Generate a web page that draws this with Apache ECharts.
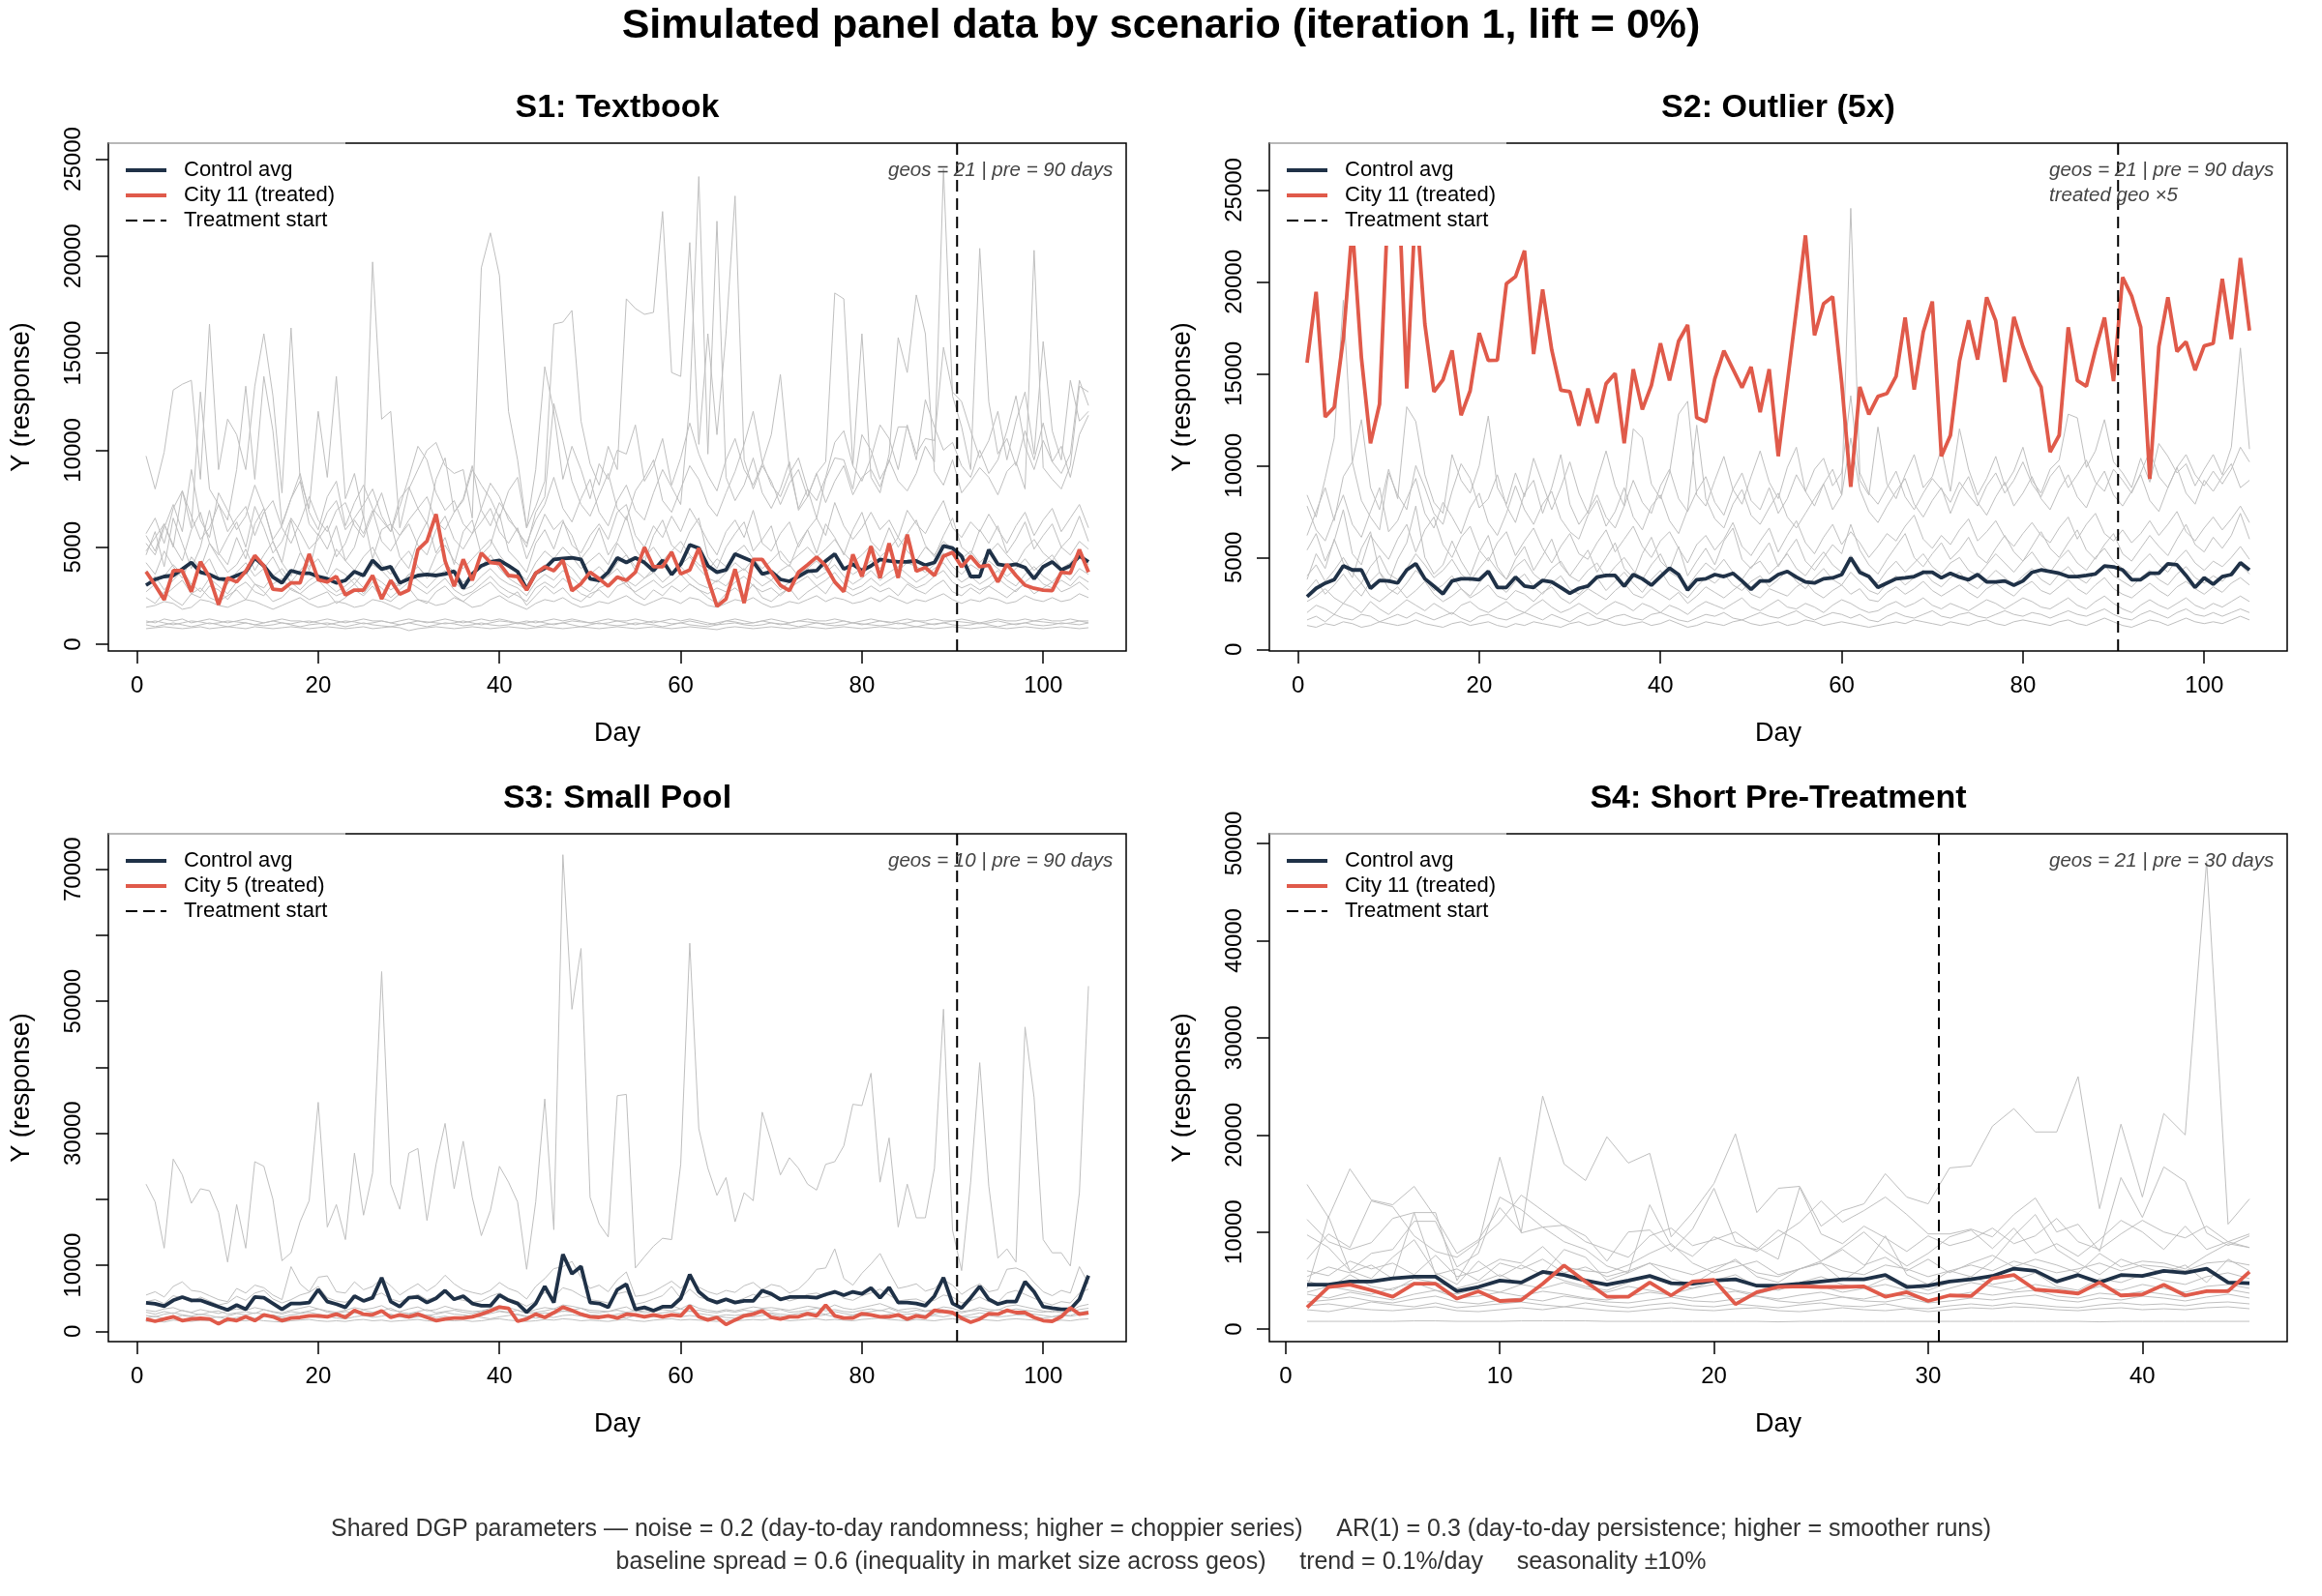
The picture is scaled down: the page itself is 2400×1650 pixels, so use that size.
<!DOCTYPE html>
<html>
<head>
<meta charset="utf-8">
<script src="https://cdn.jsdelivr.net/npm/echarts@6/dist/echarts.min.js"></script>
<style>
  html, body { margin: 0; padding: 0; background: #fff; }
  #chart { width: 2400px; height: 1650px; }
</style>
</head>
<body>
<div id="chart"></div>
<script>
// ---- data ----
const DAYS_105 = Array.from({ length: 105 }, (_, i) => i + 1);
const DAYS_45 = Array.from({ length: 45 }, (_, i) => i + 1);
const X_TICKS_105 = [0, 20, 40, 60, 80, 100];
const X_TICKS_45 = [0, 10, 20, 30, 40];
const Y_TICKS_25K = [0, 5000, 10000, 15000, 20000, 25000];
const S3_yticks = [0, 10000, 20000, 30000, 40000, 50000, 60000, 70000];
const S3_ylabels = [0, 10000, 30000, 50000, 70000];
const S4_yticks = [0, 10000, 20000, 30000, 40000, 50000];

// S1: Textbook
const S1_avg = [3040,3340,3490,3540,3870,4210,3710,3590,3370,3340,
  3540,3710,4450,4040,3460,3160,3790,3660,3660,3490,
  3370,3160,3290,3740,3540,4320,3870,3990,3160,3370,
  3540,3590,3540,3620,3760,2880,3620,4040,4240,4320,
  4040,3740,2830,3660,3910,4370,4420,4450,4370,3370,
  3290,3710,4450,4210,4450,4210,3790,4320,3590,4120,
  5120,4950,4040,3710,3830,4650,4450,4250,3620,3740,
  3340,3240,3490,3760,3790,4290,4650,3870,4120,3790,
  4040,4370,4290,4240,4250,4290,4070,4210,5070,4950,
  4540,3490,3490,4870,4120,4040,4120,3950,3370,3990,
  4240,3830,4040,4540,4250];
const S1_treated = [3740,3040,2290,3790,3790,2710,4250,3460,2040,3420,
  3210,3760,4570,4040,2830,2790,3160,3160,4650,3320,
  3210,3490,2540,2790,2790,3540,2330,3290,2580,2790,
  4870,5320,6700,4290,2990,4370,3290,4700,4210,4160,
  3540,3490,2790,3660,3990,3790,4320,2760,3120,3710,
  3370,2990,3460,3290,3710,4990,3990,3990,4750,3620,
  3830,4950,3370,1960,2330,3870,2120,4370,4370,3710,
  3040,2760,3710,4090,4490,4040,3210,2710,4620,3490,
  5040,3420,5200,3420,5650,3760,3950,3540,4540,4730,
  3990,4540,3990,4070,3210,4120,3540,3040,2880,2790,
  2760,3710,3660,4870,3710];
// control geos, thousands
const S1_geos = [
 [9.7,8.0,9.9,13.1,13.4,13.6,8.5,16.5,9.0,11.6, 10.8,9.0,13.3,16.0,12.8,7.8,16.3,8.5,7.0,12.0, 8.6,13.8,7.5,8.8,6.5,19.7,11.6,12.0,6.0,8.0,
  9.0,10.0,10.4,9.2,8.8,9.0,6.5,19.4,21.2,19.0, 12.0,9.5,6.0,9.0,14.3,12.0,8.5,10.2,9.0,7.5, 9.3,8.5,10.0,9.8,11.3,8.4,9.2,10.6,8.2,9.6,
  11.4,9.8,8.7,7.9,9.5,10.6,9.0,8.2,9.3,10.8, 13.9,9.0,7.0,8.0,6.5,8.5,9.6,9.5,8.0,10.8, 10.0,8.5,9.4,11.2,11.2,9.8,10.6,10.5,15.3,13.0,
  12.5,11.0,9.6,10.5,12.0,9.5,11.5,13.0,9.8,15.6, 11.0,9.5,13.6,11.5,12.0],
 [5.7,6.5,5.2,7.0,7.9,6.0,13.0,8.0,7.2,6.4, 9.0,13.3,8.5,13.8,11.0,6.2,7.5,8.8,6.8,5.9, 7.6,8.4,6.1,7.3,8.2,7.0,6.4,5.8,7.5,8.1,
  7.0,6.2,8.5,9.6,6.8,7.4,9.0,8.2,7.5,6.5, 7.9,8.6,6.0,7.1,8.4,16.5,16.6,17.2,11.5,9.3, 8.2,10.2,9.0,17.8,17.3,17.0,17.1,22.3,14.0,13.8,
  20.7,10.3,16.0,10.8,16.0,23.1,9.5,8.0,9.2,8.4, 7.2,8.3,9.0,7.6,8.8,9.4,18.1,17.8,9.2,16.0, 8.6,7.8,9.8,15.8,14.0,18.0,16.0,8.9,8.2,9.5,
  7.8,8.4,9.1,8.6,7.7,8.9,9.4,8.0,20.3,9.1, 8.5,8.0,9.2,13.3,13.0],
 [4.8,5.5,6.2,5.0,7.9,6.6,5.4,6.0,7.2,5.8, 6.5,7.1,5.6,6.8,7.4,6.0,5.2,6.3,7.6,6.4, 5.8,6.9,7.3,6.1,5.5,6.7,7.8,6.2,5.6,6.4,
  7.0,7.6,6.3,5.9,6.8,7.5,9.2,6.9,6.1,7.3, 6.6,5.8,5.2,6.4,7.2,8.6,7.0,6.3,7.5,8.5, 6.8,6.1,7.4,8.2,6.9,6.4,7.8,9.0,8.1,7.2,
  12.5,24.1,9.8,21.8,8.6,7.4,8.2,9.6,7.8,7.0, 8.0,9.4,6.9,7.6,8.8,7.3,8.4,9.2,7.7,8.6, 9.0,8.1,9.5,8.4,7.9,8.8,10.2,9.4,24.5,12.8,
  11.2,9.0,20.4,12.5,9.8,10.6,9.2,11.0,9.5,11.4, 9.4,10.2,8.6,10.8,11.8],
 [5.2,4.6,6.0,7.2,5.8,9.0,6.4,5.5,7.8,6.9, 5.9,6.6,8.2,7.0,5.4,6.1,7.5,8.4,6.2,5.6, 6.8,7.4,5.9,6.5,7.2,8.0,6.6,5.8,7.1,8.6,
  10.2,9.5,7.8,6.9,7.4,6.2,5.7,7.0,8.3,7.6, 6.4,5.9,5.0,6.8,7.6,12.4,10.5,8.4,7.2,6.6, 7.7,8.8,7.0,6.4,7.9,8.6,9.5,7.4,6.8,8.0,
  9.2,8.5,7.2,6.6,7.8,8.9,10.3,12.0,9.4,8.2, 7.6,8.8,9.6,8.0,7.4,8.6,10.4,11.0,9.2,8.4, 9.6,11.3,10.6,9.0,11.3,9.5,12.6,11.2,10.0,10.4,
  9.2,8.6,10.0,8.8,9.5,11.0,12.8,10.2,9.0,10.5, 9.4,8.8,9.8,13.6,12.3],
 [5.6,4.8,6.2,5.1,4.3,5.9,6.8,5.2,4.6,5.5, 6.3,5.0,7.1,6.0,4.7,5.3,6.5,5.8,4.9,5.4, 6.1,4.5,5.2,6.4,5.7,6.9,5.3,4.8,5.6,6.2,
  5.1,4.6,5.9,6.6,5.4,4.9,5.7,6.3,7.0,5.8, 5.2,6.0,4.4,5.5,6.7,5.9,6.4,5.1,4.7,5.6, 6.2,5.4,6.8,7.2,5.6,5.0,6.1,5.5,6.6,5.8,
  7.0,6.2,5.3,4.6,5.8,6.4,5.5,6.9,5.2,4.8, 5.7,6.3,5.0,5.9,6.5,5.6,7.3,6.1,5.4,6.0, 6.8,5.9,6.4,5.5,6.9,6.2,5.7,6.6,7.4,6.0,
  5.5,6.3,5.8,6.7,5.9,5.2,6.1,6.8,5.6,6.4, 7.0,5.8,6.5,7.2,6.0],
 [4.2,3.6,4.8,4.0,3.4,4.5,3.9,5.2,4.4,3.7, 4.1,4.9,3.8,4.6,5.3,4.2,3.5,4.7,4.0,4.4, 3.6,4.9,4.3,3.8,4.5,5.0,4.1,3.6,4.3,4.8,
  4.0,3.5,4.6,5.1,4.3,3.9,4.4,4.9,5.4,4.6, 4.0,3.7,3.3,4.2,4.8,4.4,5.0,4.5,3.9,4.3, 4.7,4.1,5.2,4.6,4.0,4.5,5.0,4.3,4.8,5.3,
  4.6,4.1,3.8,4.4,4.0,4.7,5.1,4.4,3.9,4.3, 4.8,4.2,4.6,5.0,4.5,4.9,5.4,4.7,4.2,4.6, 5.1,4.5,4.9,5.5,4.8,4.3,5.0,4.6,5.3,4.9,
  4.4,4.8,4.2,4.7,5.2,4.6,4.1,4.9,5.4,4.7, 4.3,5.0,4.6,5.3,4.9],
 [3.0,3.5,2.8,3.3,3.8,3.1,2.7,3.4,3.0,2.6, 3.2,3.7,3.1,2.9,3.5,3.9,3.2,2.8,3.3,3.6, 3.1,2.7,3.0,3.4,2.9,3.5,3.2,2.8,3.1,3.6,
  3.3,2.9,3.4,3.8,3.2,2.8,3.0,3.5,3.9,3.4, 3.1,2.9,2.5,3.2,3.6,3.3,3.8,3.4,3.0,2.7, 3.2,3.5,3.9,3.3,3.0,3.4,3.7,3.2,3.6,4.0,
  3.5,3.1,2.9,3.3,3.0,3.6,3.9,3.4,3.0,3.3, 2.8,3.2,3.6,3.9,3.4,3.7,4.1,3.5,3.1,3.4, 3.8,3.3,3.7,4.0,3.6,3.2,3.5,3.9,4.2,3.6,
  3.2,3.5,3.1,3.4,3.8,3.3,3.0,3.6,4.0,3.5, 3.2,3.7,3.3,3.9,3.6],
 [2.4,2.1,2.7,2.3,2.0,2.6,2.9,2.4,2.2,2.5, 2.8,2.3,3.1,2.7,2.2,2.4,2.9,2.6,2.3,2.5, 2.7,2.1,2.4,2.8,2.5,3.0,2.4,2.2,2.6,2.9,
  2.3,2.1,2.7,3.0,2.5,2.2,2.6,2.9,3.2,2.7, 2.4,2.7,2.0,2.5,3.0,2.6,2.9,2.4,2.2,2.6, 2.8,2.4,3.0,3.2,2.6,2.3,2.8,2.5,3.0,2.7,
  3.1,2.8,2.4,2.1,2.6,2.9,2.5,3.1,2.4,2.2, 2.6,2.9,2.3,2.7,3.0,2.6,3.3,2.8,2.5,2.7, 3.0,2.7,2.9,2.5,3.1,2.8,2.6,3.0,3.3,2.7,
  2.5,2.9,2.6,3.0,2.7,2.4,2.8,3.1,2.6,2.9, 3.2,2.7,2.9,3.2,2.8],
 [1.9,2.0,2.2,2.1,1.8,1.9,2.3,2.2,2.0,1.9, 2.1,2.3,2.2,2.0,1.8,2.0,2.2,2.4,2.1,1.9, 2.0,2.2,2.1,1.9,2.0,2.3,2.2,2.0,1.8,2.1,
  2.3,2.2,2.0,2.1,2.4,2.2,1.9,2.0,2.3,2.5, 2.2,2.0,1.8,2.1,2.3,2.2,2.4,2.1,1.9,2.0, 2.2,2.1,2.3,2.5,2.2,2.0,2.2,2.4,2.3,2.1,
  2.4,2.3,2.0,1.9,2.1,2.3,2.2,2.4,2.1,1.9, 2.0,2.2,2.1,2.3,2.5,2.2,2.4,2.3,2.1,2.2, 2.4,2.2,2.5,2.3,2.1,2.3,2.2,2.4,2.6,2.3,
  2.1,2.3,2.2,2.4,2.3,2.1,2.2,2.5,2.3,2.2, 2.4,2.2,2.3,2.6,2.4],
 [4.6,5.8,4.0,6.5,5.2,3.9,5.0,6.9,4.7,4.1, 5.5,4.4,6.2,7.0,5.3,4.2,6.4,4.8,3.8,5.7, 4.9,6.1,4.3,5.0,6.6,4.4,5.9,6.2,4.5,3.9,
  5.4,6.3,4.7,5.5,4.1,5.8,6.4,4.6,5.1,6.7, 4.8,4.3,3.7,5.2,5.9,4.9,6.3,5.6,4.4,5.0, 6.0,4.6,5.3,6.6,4.9,4.2,5.6,6.4,5.1,4.7,
  5.8,6.5,4.5,3.9,5.0,5.7,6.3,4.8,5.4,6.1, 4.4,4.0,5.2,5.9,4.7,6.2,5.5,4.6,5.9,6.8, 5.3,4.8,6.0,5.0,5.7,6.4,5.1,4.5,5.6,6.5,
  5.0,4.6,5.9,5.2,6.1,4.7,5.4,6.3,4.9,5.6, 6.2,5.0,5.5,6.6,5.3],
 [3.8,3.2,3.5,4.1,3.6,3.0,3.9,4.4,3.4,3.1, 3.7,4.2,3.5,3.9,4.5,3.6,3.2,3.8,4.3,3.5, 3.3,3.9,3.6,3.1,3.7,4.1,3.8,3.3,3.0,3.6,
  4.0,3.4,3.8,4.2,3.7,3.2,3.5,4.0,4.6,3.9, 3.4,3.1,2.8,3.6,4.1,3.7,4.3,3.9,3.3,3.6, 4.0,3.5,4.2,4.6,3.8,3.4,3.9,4.4,3.7,4.1,
  4.5,3.9,3.4,3.2,3.7,4.2,3.8,4.4,3.6,3.3, 3.8,4.1,3.5,3.9,4.3,3.8,4.6,4.0,3.6,3.9, 4.3,3.9,4.4,3.8,4.2,4.0,3.7,4.1,4.7,4.0,
  3.6,4.1,3.8,4.3,3.9,3.5,3.9,4.4,3.8,4.2, 4.6,3.9,4.2,4.8,4.1],
 [2.7,3.1,2.5,2.9,3.3,2.6,2.4,3.0,2.8,2.3, 2.9,3.2,2.7,2.5,3.1,3.4,2.8,2.6,3.0,3.3, 2.8,2.5,2.7,3.1,2.6,3.2,2.9,2.4,2.8,3.2,
  2.9,2.6,3.0,3.4,2.8,2.5,2.7,3.1,3.5,3.0, 2.7,2.5,2.2,2.9,3.2,2.9,3.4,3.0,2.6,2.4, 2.9,3.1,3.5,3.0,2.7,3.0,3.3,2.9,3.2,3.6,
  3.1,2.8,2.6,2.9,2.7,3.2,3.5,3.0,2.7,2.9, 2.5,2.9,3.2,3.5,3.0,3.3,3.7,3.1,2.8,3.0, 3.4,3.0,3.3,3.6,3.2,2.9,3.1,3.5,3.8,3.2,
  2.9,3.1,2.8,3.0,3.4,3.0,2.7,3.2,3.6,3.1, 2.9,3.3,3.0,3.5,3.2],
 [1.2,1.1,1.3,1.2,1.3,1.1,1.2,1.3,1.2,1.1, 1.2,1.3,1.2,1.1,1.2,1.3,1.2,1.2,1.1,1.2, 1.3,1.2,1.1,1.2,1.3,1.2,1.2,1.1,1.2,1.3,
  1.2,1.1,1.2,1.3,1.2,1.1,1.2,1.3,1.2,1.3, 1.2,1.1,1.2,1.1,1.2,1.3,1.2,1.3,1.2,1.1, 1.2,1.3,1.2,1.2,1.3,1.2,1.1,1.2,1.3,1.2,
  1.3,1.2,1.1,1.0,1.2,1.3,1.2,1.1,1.2,1.3, 1.2,1.1,1.2,1.3,1.2,1.2,1.3,1.2,1.1,1.2, 1.3,1.2,1.1,1.2,1.3,1.2,1.2,1.3,1.2,1.2,
  1.3,1.2,1.1,1.2,1.3,1.2,1.2,1.3,1.2,1.3, 1.2,1.2,1.3,1.2,1.2],
 [1.0,0.9,1.0,1.1,1.0,0.9,1.0,1.1,1.0,0.9, 1.0,1.1,1.0,0.95,1.0,1.1,1.0,0.9,1.0,1.05, 1.1,1.0,0.9,1.0,1.1,1.0,0.95,0.9,1.0,1.1,
  1.0,0.9,1.0,1.1,1.05,0.95,1.0,1.1,1.0,0.95, 1.0,1.1,1.0,0.9,1.0,1.05,1.1,1.0,0.9,1.0, 1.1,1.0,0.95,1.0,1.1,1.05,1.0,0.9,1.0,1.1,
  1.0,0.95,0.9,1.0,1.05,1.1,1.0,0.95,1.0,1.1, 1.05,1.0,0.9,1.0,1.1,1.0,0.95,1.0,1.1,1.05, 1.0,0.95,1.0,1.1,1.0,0.9,1.0,1.05,1.1,1.0,
  0.95,1.0,1.1,1.0,0.9,1.0,1.05,1.1,1.0,0.95, 1.0,1.1,1.05,1.0,1.1],
 [0.8,0.85,0.9,0.85,0.8,0.85,0.9,0.8,0.85,0.9, 0.85,0.8,0.9,0.85,0.8,0.85,0.9,0.85,0.8,0.85, 0.9,0.85,0.8,0.85,0.9,0.8,0.85,0.9,0.85,0.7,
  0.8,0.85,0.9,0.85,0.8,0.85,0.9,0.85,0.8,0.85, 0.9,0.85,0.8,0.85,0.9,0.85,0.8,0.85,0.9,0.85, 0.8,0.85,0.9,0.85,0.8,0.85,0.9,0.85,0.8,0.85,
  0.9,0.85,0.8,0.75,0.85,0.9,0.85,0.8,0.85,0.9, 0.85,0.8,0.85,0.9,0.85,0.8,0.85,0.9,0.85,0.8, 0.85,0.9,0.85,0.8,0.85,0.9,0.85,0.8,0.85,0.9,
  0.85,0.8,0.85,0.9,0.85,0.8,0.85,0.9,0.85,0.8, 0.85,0.9,0.85,0.8,0.85],
 [1.1,1.2,1.1,1.0,1.1,1.2,1.15,1.05,1.1,1.2, 1.15,1.1,1.0,1.1,1.2,1.1,1.05,1.15,1.2,1.1, 1.0,1.1,1.2,1.15,1.05,1.1,1.2,1.1,1.0,1.1,
  1.2,1.15,1.1,1.05,1.1,1.2,1.1,1.0,1.1,1.2, 1.15,1.05,1.1,1.2,1.1,1.0,1.1,1.2,1.15,1.1, 1.05,1.1,1.2,1.1,1.0,1.1,1.2,1.15,1.05,1.1,
  1.2,1.1,1.0,1.1,1.2,1.15,1.05,1.1,1.2,1.1, 1.0,1.1,1.2,1.15,1.1,1.05,1.1,1.2,1.1,1.0, 1.1,1.2,1.15,1.05,1.1,1.2,1.1,1.0,1.1,1.2,
  1.15,1.1,1.05,1.1,1.2,1.1,1.0,1.1,1.2,1.15, 1.1,1.05,1.1,1.2,1.1]
];

// S2: Outlier (5x)
const S2_avg = [2870,3320,3600,3790,4540,4320,4320,3320,3750,3720,
  3610,4320,4660,3840,3440,3020,3720,3840,3840,3790,
  4240,3370,3370,3930,3440,3370,3750,3670,3370,3050,
  3320,3440,3930,4020,4020,3440,4070,3840,3490,3960,
  4420,4070,3230,3790,3840,4070,3960,4140,3720,3260,
  3720,3720,4070,4240,3930,3670,3610,3840,3890,4070,
  4980,4190,3960,3370,3610,3840,3890,3960,4190,4190,
  3890,4140,3930,3790,4070,3670,3670,3720,3490,3720,
  4190,4320,4240,4140,3960,3960,4020,4100,4540,4490,
  4320,3790,3790,4140,4140,4660,4600,4020,3370,3890,
  3540,3960,4070,4710,4320];
const S2_treated = [15600,19460,12650,13180,16910,23000,15860,11210,13350,25000,
  26500,14190,24500,17700,14020,14670,16270,12740,14070,17210,
  15720,15740,19900,20280,21700,16070,19580,16300,14110,14020,
  12180,14190,12320,14460,15020,11210,15250,13050,14370,16650,
  14630,16770,17650,12610,12390,14720,16250,15250,14250,15370,
  12910,15250,10510,14500,18500,22530,17090,18810,19190,14500,
  8840,14280,12790,13760,13930,14850,18060,14140,17270,18930,
  10510,11650,15690,17910,15770,19160,17880,14550,18090,16480,
  15190,14280,10740,11650,17530,14630,14320,16300,18060,14600,
  20250,19230,17530,9280,16480,19160,16210,16740,15190,16510,
  16650,20160,16880,21300,17350];
const S2_geos = [
 [8.4,7.2,9.3,11.5,19.0,10.2,12.5,8.8,7.6,9.8, 8.2,13.2,12.4,9.5,8.0,7.4,10.6,9.2,8.5,10.0, 12.7,8.8,7.9,9.6,8.3,10.4,9.0,7.6,8.8,10.2,
  8.5,7.4,9.2,10.8,8.9,7.8,12.0,11.5,9.0,8.2, 9.6,12.8,13.5,8.4,7.8,9.2,10.5,8.7,7.9,9.4, 10.8,9.1,8.2,9.9,11.0,8.6,9.8,10.4,8.9,9.6,
  13.8,9.2,8.4,12.1,9.0,8.2,9.5,10.6,8.8,9.4, 10.9,8.6,12.0,9.8,8.4,9.3,10.5,8.9,9.7,11.0, 9.2,8.5,9.8,10.3,12.8,12.6,9.9,10.8,12.5,10.2,
  9.6,8.8,10.4,9.1,11.2,10.5,9.6,10.1,8.9,9.8, 10.6,9.5,11.0,16.4,10.9],
 [6.2,7.5,8.8,7.0,9.4,10.2,8.1,7.2,6.5,9.6, 8.4,7.6,10.0,8.8,7.4,6.8,8.6,10.1,9.3,7.7, 8.2,9.5,7.8,6.9,8.5,9.2,7.4,8.8,10.6,7.9,
  6.8,7.5,8.4,7.2,6.6,7.8,9.2,8.0,7.4,8.9, 9.8,8.2,7.5,8.6,9.4,8.0,7.3,8.7,9.6,8.1, 7.6,8.8,7.4,8.2,9.5,8.6,7.8,9.0,9.8,8.4,
  24.0,9.6,8.5,7.9,8.8,9.7,8.3,7.6,8.5,9.3, 8.7,8.0,9.1,8.4,7.8,8.9,9.6,8.5,9.2,10.2, 9.0,8.3,9.4,10.0,8.8,9.5,10.3,9.1,8.6,9.8,
  9.2,8.5,9.6,10.8,9.4,8.8,9.9,10.6,9.5,8.9, 9.7,9.0,9.8,11.0,10.2],
 [7.8,6.5,5.9,7.2,8.4,6.8,6.1,7.5,8.8,6.4, 7.0,8.2,9.3,7.4,6.6,8.0,7.2,6.3,7.7,8.5, 6.9,6.2,7.4,8.9,7.6,6.8,7.9,8.6,7.1,6.4,
  6.0,7.3,8.1,6.7,7.5,8.8,7.2,6.5,7.8,8.4, 7.0,6.3,7.6,12.2,8.2,7.1,6.6,7.9,8.7,7.3, 6.8,7.7,8.5,7.2,6.6,7.4,8.2,9.0,7.6,8.4,
  11.5,8.7,7.5,6.9,7.8,8.6,9.3,7.9,7.2,8.1, 8.8,7.4,8.6,9.4,8.0,7.3,8.3,9.1,7.8,8.5, 9.4,8.2,7.6,8.7,9.5,8.3,7.7,8.9,9.7,8.4,
  7.8,8.6,9.5,8.1,7.5,8.8,9.9,8.5,7.9,9.2, 8.6,9.4,10.1,8.8,9.2],
 [5.4,6.3,4.8,5.9,7.6,5.2,4.6,6.2,5.5,4.9, 6.0,6.8,5.3,6.5,7.2,5.7,5.0,6.1,6.7,5.4, 4.8,5.8,6.4,5.1,5.9,6.6,5.5,4.7,5.6,6.3,
  5.2,4.9,5.8,6.5,5.3,6.0,6.7,5.6,5.0,5.9, 6.4,5.5,4.7,5.7,6.2,5.4,6.0,6.9,5.6,5.1, 5.9,6.6,5.3,6.2,7.0,5.8,5.2,6.1,6.8,5.7,
  6.4,5.8,5.0,5.6,6.3,5.9,6.7,7.3,6.0,5.5, 6.2,5.7,6.5,7.1,5.9,6.4,7.0,6.1,5.6,6.3, 6.9,6.2,5.8,6.6,7.2,6.0,6.8,7.4,6.3,5.9,
  6.5,5.8,6.3,7.0,6.2,6.8,7.5,6.4,5.9,6.6, 7.2,6.5,7.1,7.8,6.9],
 [3.8,5.2,4.4,6.0,4.7,3.9,5.5,6.4,4.2,3.6, 4.9,5.8,7.8,5.0,4.1,4.6,5.9,4.8,4.0,5.3, 6.2,4.5,3.8,4.9,5.6,4.3,5.1,6.0,4.6,4.0,
  4.7,5.4,4.2,5.0,5.8,4.4,3.9,5.2,6.1,4.8, 4.3,5.6,4.0,4.8,5.5,4.6,5.9,6.6,4.9,4.4, 5.1,5.8,4.5,5.3,6.0,4.8,4.3,5.0,5.7,5.2,
  6.8,5.4,4.6,4.1,4.9,5.6,6.3,5.0,4.5,5.2, 5.8,4.9,5.4,6.1,5.1,4.7,5.5,6.2,5.3,4.8, 5.6,6.4,5.5,5.0,5.8,6.5,5.4,4.9,5.7,6.3,
  5.2,4.8,5.5,6.2,5.6,5.1,6.0,6.8,5.7,5.3, 6.1,5.5,6.2,7.4,6.0],
 [4.0,4.6,3.7,4.3,5.0,4.2,3.6,4.5,5.1,4.1, 3.8,4.4,5.2,4.6,3.9,4.3,4.9,4.1,3.7,4.4, 5.0,4.3,3.8,4.5,4.9,4.1,3.7,4.4,4.8,4.0,
  3.7,4.3,4.7,3.9,4.5,5.0,4.3,3.8,4.6,5.2, 4.2,3.9,3.4,4.1,4.7,4.3,4.9,4.2,3.8,4.5, 4.8,4.1,4.6,5.2,4.4,4.0,4.7,5.3,4.6,4.2,
  5.1,4.4,3.9,3.6,4.3,4.8,4.2,4.7,5.2,4.5, 4.1,4.7,5.0,4.3,4.0,4.6,5.2,4.7,4.2,4.8, 5.3,4.6,4.2,4.9,5.4,4.7,4.3,5.0,5.5,4.8,
  4.4,4.1,4.7,5.2,4.6,4.2,4.9,5.4,4.7,4.3, 4.8,4.5,5.0,5.6,4.9],
 [3.2,3.8,3.0,3.5,4.1,3.4,2.9,3.7,4.2,3.3, 3.0,3.6,4.3,3.8,3.2,3.5,4.0,3.3,2.9,3.6, 4.2,3.5,3.1,3.7,4.1,3.4,3.0,3.6,4.0,3.3,
  3.0,3.5,3.9,3.2,3.7,4.2,3.6,3.1,3.8,4.3, 3.5,3.2,2.8,3.4,3.9,3.6,4.1,3.5,3.2,3.7, 4.0,3.4,3.8,4.3,3.7,3.3,3.9,4.4,3.8,3.5,
  4.2,3.7,3.2,3.0,3.6,4.0,3.5,3.9,4.3,3.7, 3.4,3.9,4.2,3.6,3.3,3.8,4.3,3.9,3.5,4.0, 4.4,3.8,3.5,4.1,4.5,3.9,3.6,4.2,4.6,4.0,
  3.7,3.4,3.9,4.3,3.8,3.5,4.1,4.5,3.9,3.6, 4.0,3.7,4.2,4.6,4.1],
 [2.6,2.9,3.3,2.8,2.5,3.1,3.6,2.9,2.6,3.0, 3.4,2.8,3.2,3.7,3.0,2.6,2.9,3.3,2.8,3.1, 3.5,2.9,2.7,3.2,3.0,2.6,3.1,3.4,2.8,2.5,
  2.9,3.3,3.0,2.7,3.2,3.6,3.0,2.8,3.3,3.0, 2.7,3.1,2.5,2.9,3.4,3.1,2.8,3.2,3.6,3.0, 2.8,3.3,3.1,2.9,3.4,3.7,3.1,2.8,3.2,3.5,
  3.0,3.3,2.7,2.6,3.1,3.4,3.0,3.3,3.7,3.2, 2.9,3.2,3.5,3.1,2.8,3.3,3.6,3.2,2.9,3.4, 3.7,3.2,3.0,3.4,3.8,3.3,3.0,3.5,3.9,3.3,
  3.0,2.8,3.2,3.6,3.2,2.9,3.4,3.7,3.3,3.0, 3.4,3.1,3.6,3.9,3.5],
 [2.0,2.4,2.2,1.9,2.5,2.3,2.0,2.6,2.2,1.9, 2.3,2.7,2.4,2.1,2.5,2.2,1.9,2.4,2.6,2.2, 2.0,2.3,2.6,2.2,2.0,2.4,2.7,2.3,2.0,2.2,
  2.5,2.2,1.9,2.3,2.6,2.4,2.1,2.5,2.3,2.0, 2.4,2.2,1.9,2.3,2.6,2.4,2.2,2.5,2.8,2.3, 2.1,2.4,2.7,2.3,2.2,2.5,2.3,2.0,2.4,2.7,
  2.5,2.2,2.0,2.1,2.4,2.6,2.3,2.5,2.8,2.4, 2.2,2.5,2.3,2.1,2.4,2.7,2.5,2.2,2.5,2.8, 2.6,2.3,2.2,2.5,2.8,2.4,2.2,2.6,2.9,2.5,
  2.2,2.0,2.4,2.7,2.4,2.2,2.5,2.8,2.4,2.2, 2.5,2.3,2.6,2.9,2.6],
 [1.6,1.8,1.5,1.9,1.7,1.6,1.9,1.8,1.5,1.7, 1.9,1.7,2.0,1.8,1.6,1.8,2.0,1.7,1.5,1.8, 1.9,1.7,1.6,1.8,2.0,1.8,1.6,1.9,1.7,1.5,
  1.8,2.0,1.7,1.6,1.8,1.9,1.7,1.6,1.9,2.0, 1.8,1.6,1.5,1.7,1.9,1.8,2.0,1.7,1.6,1.8, 2.0,1.8,1.7,1.9,2.1,1.8,1.6,1.8,2.0,1.9,
  1.7,1.9,1.6,1.5,1.8,2.0,1.8,1.7,1.9,2.1, 1.8,1.7,1.9,2.0,1.8,1.7,1.9,2.1,1.9,1.8, 2.0,1.9,1.7,1.9,2.1,1.9,1.8,2.0,2.2,1.9,
  1.7,1.6,1.9,2.1,1.9,1.7,2.0,2.2,1.9,1.8, 2.0,1.8,2.0,2.2,2.0],
 [1.3,1.2,1.4,1.3,1.5,1.4,1.2,1.3,1.5,1.4, 1.3,1.4,1.6,1.4,1.3,1.2,1.4,1.5,1.3,1.4, 1.5,1.3,1.2,1.4,1.3,1.5,1.4,1.3,1.2,1.4,
  1.5,1.3,1.4,1.6,1.4,1.3,1.4,1.5,1.3,1.4, 1.6,1.4,1.2,1.3,1.5,1.4,1.3,1.5,1.6,1.4, 1.3,1.4,1.5,1.3,1.4,1.6,1.5,1.3,1.4,1.5,
  1.4,1.3,1.2,1.3,1.4,1.5,1.4,1.6,1.5,1.4, 1.3,1.5,1.4,1.3,1.5,1.6,1.4,1.3,1.5,1.6, 1.5,1.4,1.3,1.5,1.6,1.4,1.3,1.5,1.7,1.5,
  1.3,1.2,1.4,1.6,1.5,1.3,1.5,1.7,1.5,1.4, 1.5,1.4,1.6,1.8,1.6]
];

// S3: Small Pool
const S3_avg = [4310,4170,3820,4700,5190,4700,4700,4220,3730,3240,
  3970,3340,5190,5090,4220,3340,4220,4220,4360,6320,
  4510,4120,3630,5340,4610,5090,8130,4510,3730,5090,
  5190,4360,5000,6170,4850,5340,4220,3880,3880,5490,
  4700,4220,2900,4220,6810,4360,11660,8720,9840,4360,
  4220,3630,6320,7150,3340,3630,3140,3730,3730,5000,
  8610,5980,4850,4360,4850,4360,4610,4610,6170,5680,
  4850,5190,5190,5190,5090,5590,5980,5490,5980,5680,
  6560,5090,6660,4360,4360,4220,3880,5340,8130,4220,
  3530,5090,6810,4850,4120,4510,4510,7540,5980,3730,
  3530,3340,3340,4850,8440];
const S3_treated = [1860,1520,1860,2210,1620,1860,1960,1860,1130,1860,
  1620,2210,1620,2500,2210,1620,2010,2110,2350,2350,
  2210,2600,2110,3180,2600,2500,3090,2110,2500,2210,
  2600,2110,1620,1860,2010,2010,2210,2600,3090,3670,
  3480,1520,1860,2600,2110,2840,3670,3180,2600,2210,
  2110,2350,2010,2600,2500,2210,2500,2210,2500,2350,
  3820,2210,1720,2110,1030,1720,2350,2600,3090,2110,
  1860,2210,2210,2690,2350,3970,2350,2010,2010,2690,
  2500,2210,2210,2500,1860,2350,2110,3180,2990,2840,
  2010,1380,1860,2690,2600,3180,2840,2840,2110,1620,
  1520,2210,3570,2600,2840];
const S3_geos = [
 [22.3,19.6,12.6,26.1,23.7,19.4,21.6,21.3,18.0,10.5, 19.2,12.6,25.7,25.0,20.0,10.7,11.9,16.6,19.8,34.7, 15.8,19.2,13.9,27.0,17.6,24.0,54.5,22.3,18.5,27.0,
  27.7,16.8,25.3,31.5,21.6,28.8,20.3,14.5,18.3,25.0, 22.6,19.6,9.4,19.6,35.2,15.4,72.2,48.8,58.0,20.3, 16.3,14.3,35.7,35.9,9.6,11.3,12.9,14.1,13.9,25.3,
  58.8,30.7,24.7,20.6,23.3,16.6,21.0,19.8,33.2,28.7, 23.7,26.3,24.7,22.3,21.4,25.3,25.7,28.1,34.4,34.2, 39.1,22.6,29.3,15.8,22.3,17.2,17.2,24.7,48.8,15.3,
  9.2,22.6,40.7,22.0,11.1,12.5,10.5,46.1,35.4,13.9, 11.9,11.9,9.9,21.0,52.3],
 [5.5,6.0,5.2,6.8,7.5,6.2,6.0,5.4,4.8,4.5, 6.5,5.8,7.0,6.6,5.5,4.8,9.8,7.2,6.0,8.2, 8.4,6.0,5.8,7.5,6.3,6.8,8.0,6.9,5.5,6.4,
  7.2,6.1,7.0,8.5,7.2,6.3,5.9,5.6,6.2,7.4, 6.5,6.0,4.9,6.8,8.0,9.5,9.8,10.6,8.2,6.5, 7.0,6.0,7.8,9.0,5.3,5.5,6.0,6.8,7.6,6.5,
  7.9,6.7,6.0,5.6,6.2,5.9,6.9,7.4,6.3,7.1, 6.8,5.8,6.4,7.7,9.4,9.6,12.5,8.0,7.0,8.8, 10.2,11.8,9.0,6.5,6.8,7.2,6.1,6.5,7.8,7.0,
  5.6,6.5,7.2,6.0,6.3,9.4,9.6,9.0,7.4,6.0, 5.4,6.2,5.8,9.8,7.2],
 [4.5,4.8,4.2,5.4,5.0,4.4,5.2,4.6,4.0,4.3, 5.3,4.7,5.8,6.2,4.9,4.3,4.8,5.5,5.9,6.8, 5.1,4.6,4.4,5.0,4.7,5.3,5.8,4.9,4.5,5.1,
  5.6,4.8,5.2,6.1,5.0,4.7,4.4,4.6,5.3,5.8, 5.0,4.5,3.8,4.6,5.9,5.2,6.6,6.2,5.4,4.8, 4.6,4.3,5.7,6.0,4.1,4.4,4.9,5.4,6.8,5.0,
  6.4,5.2,4.8,4.3,4.7,4.5,5.0,5.6,5.1,5.4, 5.2,4.6,5.0,5.6,5.8,5.3,6.2,5.0,4.7,5.4, 5.8,6.4,5.5,4.6,4.8,4.9,4.4,4.7,5.5,5.2,
  4.3,4.6,5.2,4.5,4.4,5.8,6.2,5.6,5.0,4.4, 4.0,4.5,4.3,5.8,6.4],
 [3.2,3.0,3.4,3.6,3.1,2.9,3.3,3.0,2.7,3.1, 3.4,3.2,3.6,3.3,3.0,2.8,3.2,3.5,3.8,3.4, 3.1,2.9,3.2,3.6,3.3,3.5,3.9,3.2,3.0,3.4,
  3.7,3.1,3.3,3.8,3.4,3.2,3.0,3.1,3.5,3.9, 3.6,3.2,2.8,3.3,3.6,3.4,4.0,3.8,3.5,3.2, 3.1,3.0,3.4,3.7,3.0,3.1,3.3,3.6,3.9,3.4,
  4.1,3.5,3.2,3.0,3.3,3.1,3.4,3.7,3.5,3.6, 3.4,3.2,3.5,3.8,3.6,3.4,4.0,3.5,3.3,3.6, 3.9,4.2,3.7,3.2,3.4,3.5,3.1,3.3,3.7,3.5,
  3.0,3.2,3.6,3.3,3.2,3.8,4.0,3.7,3.4,3.1, 2.9,3.2,3.1,3.8,4.1],
 [2.4,2.2,2.6,2.8,2.5,2.3,2.6,2.4,2.1,2.3, 2.7,2.5,2.8,2.6,2.4,2.2,2.5,2.7,2.9,2.6, 2.4,2.3,2.5,2.8,2.6,2.7,3.0,2.5,2.3,2.6,
  2.8,2.4,2.6,2.9,2.6,2.5,2.3,2.4,2.7,3.0, 2.8,2.5,2.2,2.6,2.8,2.6,3.1,2.9,2.7,2.5, 2.4,2.3,2.6,2.9,2.3,2.4,2.6,2.8,3.0,2.7,
  3.1,2.7,2.5,2.3,2.5,2.4,2.6,2.9,2.7,2.8, 2.6,2.5,2.7,2.9,2.8,2.6,3.0,2.7,2.5,2.8, 3.0,3.2,2.9,2.5,2.6,2.7,2.4,2.6,2.9,2.7,
  2.3,2.5,2.8,2.6,2.5,2.9,3.1,2.8,2.6,2.4, 2.2,2.5,2.4,2.9,3.1],
 [2.0,2.3,1.9,2.1,2.4,2.2,1.9,2.0,2.2,1.8, 2.1,2.3,2.0,2.2,2.5,2.1,1.9,2.2,2.4,2.1, 2.3,2.0,1.9,2.2,2.4,2.1,2.3,2.6,2.2,2.0,
  2.2,2.5,2.1,2.3,2.0,2.2,2.4,2.1,1.9,2.2, 2.4,2.6,2.3,2.0,2.2,2.1,2.4,2.5,2.3,2.1, 2.0,2.3,2.2,2.0,2.4,2.1,2.2,2.3,2.5,2.2,
  2.4,2.2,2.0,2.3,2.1,2.0,2.3,2.2,2.4,2.6, 2.3,2.1,2.2,2.4,2.3,2.5,2.2,2.1,2.4,2.3, 2.5,2.3,2.6,2.2,2.1,2.3,2.2,2.4,2.2,2.5,
  2.3,2.1,2.2,2.4,2.2,2.3,2.5,2.4,2.2,2.0, 2.2,2.4,2.3,2.5,2.6],
 [1.5,1.6,1.4,1.7,1.6,1.5,1.7,1.6,1.4,1.5, 1.7,1.6,1.8,1.6,1.5,1.4,1.6,1.7,1.8,1.6, 1.5,1.6,1.5,1.7,1.8,1.6,1.7,1.5,1.6,1.7,
  1.8,1.6,1.5,1.7,1.6,1.7,1.5,1.6,1.8,1.9, 1.7,1.6,1.5,1.6,1.8,1.7,1.9,1.8,1.6,1.7, 1.6,1.5,1.7,1.8,1.6,1.5,1.7,1.8,1.9,1.7,
  1.8,1.7,1.6,1.5,1.7,1.6,1.7,1.8,1.7,1.9, 1.8,1.6,1.7,1.8,1.9,1.7,1.8,1.7,1.6,1.8, 1.9,2.0,1.8,1.7,1.6,1.8,1.7,1.6,1.8,1.9,
  1.7,1.6,1.8,1.7,1.6,1.8,1.9,1.8,1.7,1.6, 1.5,1.7,1.6,1.8,1.9],
 [2.9,2.6,3.0,2.7,3.2,2.8,2.5,2.9,3.1,2.6, 2.8,3.0,2.7,3.3,2.9,2.6,3.0,2.8,3.1,3.4, 2.9,2.7,3.0,2.8,3.2,2.9,3.1,3.5,2.9,2.7,
  3.0,3.3,2.8,3.0,3.2,2.9,2.7,3.0,3.3,3.1, 2.9,3.2,2.7,2.9,3.1,3.4,3.0,3.2,3.5,2.9, 2.8,3.0,3.2,2.9,3.1,2.8,3.0,3.3,3.1,3.4,
  3.0,3.2,2.9,2.8,3.1,2.9,3.2,3.0,3.4,3.1, 3.3,2.9,3.0,3.2,3.5,3.1,3.3,3.0,2.9,3.2, 3.4,3.1,3.5,3.0,2.9,3.2,3.0,3.1,3.3,3.0,
  2.8,3.1,3.2,3.0,3.3,3.1,3.4,3.2,3.0,2.9, 3.1,2.8,3.0,3.3,3.5]
];

// S4: Short Pre-Treatment
const S4_avg = [4570,4570,4900,4900,5230,5400,5400,3900,4340,5000,
  4800,5900,5570,5000,4570,5000,5470,4730,4670,5000,
  5130,4470,4470,4670,4900,5130,5130,5570,4340,4470,
  4900,5130,5470,6230,6000,4900,5570,4800,5570,5470,
  6000,5800,6230,4800,4730];
const S4_treated = [2240,4340,4570,4000,3340,4670,4670,3140,3900,2900,
  3000,4670,6560,4900,3340,3340,4800,3470,4900,5070,
  2570,3800,4340,4400,4340,4340,4400,3340,3800,2900,
  3470,3400,5230,5570,4070,3900,3670,4800,3470,3570,
  4570,3470,3900,3900,5900];
const S4_geos = [
 [14.9,11.5,16.5,13.3,12.8,14.7,11.5,7.8,9.2,12.5, 10.0,24.0,17.0,15.3,19.8,17.1,18.1,9.5,12.0,15.0, 20.1,12.0,14.5,14.7,10.6,12.2,12.9,16.0,13.6,12.9,
  16.6,16.8,20.9,22.7,20.3,20.3,26.0,12.4,21.1,13.6, 22.2,20.0,48.2,10.8,13.4],
 [11.3,9.0,8.2,8.9,11.4,12.0,12.0,5.0,8.7,17.7, 9.9,10.5,10.7,9.6,7.0,10.0,10.2,8.0,10.3,14.5, 9.0,8.0,9.5,11.0,13.2,11.0,12.2,13.6,11.8,9.8,
  9.8,10.3,9.5,11.8,13.5,10.0,10.8,8.0,15.6,11.5, 16.7,15.2,9.9,8.6,9.6],
 [9.7,8.4,6.0,7.8,8.2,11.1,11.1,6.4,7.8,13.6, 12.3,10.5,9.0,8.2,6.5,5.8,12.8,8.6,7.5,9.5, 8.6,8.2,10.2,9.0,7.0,8.4,10.0,8.0,6.5,7.8,
  9.5,10.2,8.3,10.4,7.8,8.8,7.5,9.2,11.2,10.0, 8.2,10.6,8.2,9.0,9.8],
 [7.2,9.8,8.4,13.2,12.6,9.6,8.0,7.4,9.0,11.0, 13.8,12.2,10.6,9.0,8.2,7.4,9.6,10.4,8.6,9.2, 10.0,8.4,7.2,14.6,9.8,8.8,10.6,9.4,8.0,9.6,
  8.6,9.2,10.4,8.8,9.6,11.4,9.0,8.2,9.8,11.2, 10.0,9.4,10.6,9.0,8.4],
 [6.0,5.5,7.0,6.2,6.8,5.6,7.6,5.4,6.0,7.2, 6.8,8.5,6.4,6.0,5.8,6.6,7.8,8.8,6.8,5.8, 6.4,7.0,5.6,6.2,7.0,8.2,6.6,7.4,6.0,7.2,
  5.8,6.8,7.6,6.4,7.2,6.6,5.8,7.8,6.4,7.0, 6.8,6.2,7.6,8.8,8.4],
 [5.4,6.4,5.8,6.6,5.2,12.0,5.6,6.2,5.0,6.8, 6.2,7.2,5.8,6.4,5.4,6.0,6.8,6.2,5.6,6.4, 7.0,5.8,5.4,6.2,6.8,6.0,5.6,6.6,6.2,5.4,
  6.0,6.6,6.0,7.0,6.4,5.8,6.2,6.8,6.0,6.6, 6.4,6.0,6.8,7.0,6.6],
 [4.2,11.6,6.0,5.2,7.4,9.2,5.8,4.6,7.0,5.4, 6.6,5.6,8.2,7.4,5.0,5.8,6.8,5.2,4.6,6.0, 7.2,5.4,4.8,6.2,6.8,5.0,6.4,9.6,5.6,4.6,
  6.0,5.4,7.0,9.6,11.8,8.2,6.8,5.6,7.2,6.4, 5.8,6.6,4.8,7.2,6.0],
 [5.0,4.2,5.6,4.4,4.0,5.2,4.8,4.2,4.8,5.6, 4.6,5.8,5.0,4.4,4.0,4.8,5.4,4.6,4.2,5.0, 5.6,4.4,4.0,4.8,5.4,4.6,4.2,5.2,4.6,4.0,
  4.8,5.4,4.6,5.0,5.8,4.4,4.0,5.2,4.8,5.6, 5.0,4.6,5.4,5.8,5.2],
 [3.8,4.4,4.0,3.6,4.2,4.8,4.0,3.6,4.2,3.8, 4.6,4.2,4.8,4.2,3.8,4.4,4.0,3.6,4.2,4.6, 4.0,3.6,4.2,4.8,4.4,3.8,4.2,4.6,4.0,3.6,
  4.2,4.8,4.4,4.0,4.6,4.2,3.8,4.4,4.0,4.6, 4.2,3.8,4.4,4.6,4.2],
 [3.6,3.2,3.8,3.4,3.0,3.6,4.0,3.2,3.4,3.8, 3.4,3.9,3.6,3.2,3.0,3.4,3.8,3.5,3.2,3.6, 3.9,3.4,3.1,3.5,3.8,3.3,3.1,3.6,3.4,3.0,
  3.4,3.8,3.5,3.8,4.0,3.4,3.2,3.7,3.5,3.9, 3.6,3.3,3.8,4.1,3.7],
 [2.8,3.0,3.3,2.9,2.7,3.1,3.4,2.8,2.6,3.0, 3.2,2.9,3.4,3.1,2.8,2.7,3.0,3.3,2.9,2.8, 3.1,3.4,2.9,2.7,3.0,3.3,2.9,2.8,3.2,2.7,
  2.9,3.2,3.0,3.3,3.5,3.0,2.8,3.2,3.0,3.4, 3.2,2.9,3.3,3.6,3.2],
 [2.4,2.6,2.3,2.8,2.5,2.3,2.7,2.2,2.4,2.6, 2.8,2.5,2.3,2.7,2.4,2.2,2.5,2.7,2.4,2.3, 2.6,2.4,2.2,2.5,2.7,2.4,2.3,2.6,2.2,2.1,
  2.4,2.6,2.4,2.7,2.5,2.3,2.2,2.5,2.7,2.5, 2.6,2.4,2.7,2.8,2.6],
 [2.0,1.8,2.2,2.0,1.9,2.1,2.3,1.9,1.8,2.0, 2.2,2.0,2.3,2.1,1.9,1.8,2.0,2.2,2.0,1.9, 2.1,2.2,1.9,1.8,2.0,2.2,2.0,1.9,2.1,1.8,
  2.0,2.2,2.1,2.3,2.2,2.0,1.9,2.1,2.2,2.0, 2.1,2.0,2.2,2.3,2.1],
 [0.8,0.8,0.8,0.8,0.8,0.85,0.85,0.8,0.8,0.8, 0.85,0.85,0.85,0.85,0.8,0.8,0.8,0.8,0.8,0.8, 0.8,0.8,0.75,0.8,0.8,0.8,0.8,0.8,0.8,0.8,
  0.8,0.8,0.8,0.8,0.8,0.8,0.8,0.75,0.8,0.8, 0.8,0.8,0.8,0.8,0.8]
];

// ---- layout / styles ----
const FONT = '"Liberation Sans", Arial, Helvetica, sans-serif';
const C_AVG = '#1f3147';
const C_TRT = '#e05a4a';
const C_GEO = '#bfbfbf';
const W = 1052, H = 525;

const panels = [
  { title: 'S1: Textbook', left: 112, top: 148, days: DAYS_105, avg: S1_avg, trt: S1_treated, geos: S1_geos,
    xMin: -3.16, xMax: 109.16, xTicks: X_TICKS_105, yMin: -349, yMax: 25823, yTicks: Y_TICKS_25K, yLabels: Y_TICKS_25K,
    treat: 90.5, trtName: 'City 11 (treated)', note: ['geos = 21 | pre = 90 days'] },
  { title: 'S2: Outlier (5x)', left: 1312, top: 148, days: DAYS_105, avg: S2_avg, trt: S2_treated, geos: S2_geos,
    xMin: -3.16, xMax: 109.16, xTicks: X_TICKS_105, yMin: -89, yMax: 27548, yTicks: Y_TICKS_25K, yLabels: Y_TICKS_25K,
    treat: 90.5, trtName: 'City 11 (treated)', note: ['geos = 21 | pre = 90 days', 'treated geo \u00d75'] },
  { title: 'S3: Small Pool', left: 112, top: 862, days: DAYS_105, avg: S3_avg, trt: S3_treated, geos: S3_geos,
    xMin: -3.16, xMax: 109.16, xTicks: X_TICKS_105, yMin: -1555, yMax: 75377, yTicks: S3_yticks, yLabels: S3_ylabels,
    treat: 90.5, trtName: 'City 5 (treated)', note: ['geos = 10 | pre = 90 days'] },
  { title: 'S4: Short Pre-Treatment', left: 1312, top: 862, days: DAYS_45, avg: S4_avg, trt: S4_treated, geos: S4_geos,
    xMin: -0.76, xMax: 46.76, xTicks: X_TICKS_45, yMin: -1284, yMax: 50996, yTicks: S4_yticks, yLabels: S4_yticks,
    treat: 30.5, trtName: 'City 11 (treated)', note: ['geos = 21 | pre = 30 days'] }
];

// sanity check on hand-entered arrays
const bad = [];
panels.forEach(p => {
  const n = p.days.length;
  if (p.avg.length !== n) bad.push(p.title + ' avg ' + p.avg.length);
  if (p.trt.length !== n) bad.push(p.title + ' trt ' + p.trt.length);
  p.geos.forEach((g, k) => { if (g.length !== n) bad.push(p.title + ' geo' + k + ' ' + g.length); });
});

const grid = [], xAxis = [], yAxis = [], series = [], elements = [];

function txt(x, y, text, font, fill, align) {
  return { type: 'text', z: 100, silent: true,
    style: { x, y, text, font, fill: fill || '#000', align: align || 'left', verticalAlign: 'middle',
             textAlign: align || 'left', textVerticalAlign: 'middle' } };
}

panels.forEach((p, i) => {
  grid.push({ left: p.left, top: p.top, width: W, height: H, show: true,
    borderColor: '#000', borderWidth: 1.5, backgroundColor: 'transparent' });
  xAxis.push({ gridIndex: i, type: 'value', min: p.xMin, max: p.xMax,
    splitLine: { show: false }, axisLine: { show: false, onZero: false },
    axisTick: { show: true, length: 13, lineStyle: { color: '#000', width: 1.5 }, customValues: p.xTicks },
    axisLabel: { customValues: p.xTicks, fontSize: 24, color: '#000', fontFamily: FONT, margin: 24,
      formatter: v => String(v) },
    name: 'Day', nameLocation: 'middle', nameGap: 72,
    nameTextStyle: { fontSize: 27, color: '#000', fontFamily: FONT } });
  yAxis.push({ gridIndex: i, type: 'value', min: p.yMin, max: p.yMax,
    splitLine: { show: false }, axisLine: { show: false, onZero: false },
    axisTick: { show: true, length: 13, lineStyle: { color: '#000', width: 1.5 }, customValues: p.yTicks },
    axisLabel: { customValues: p.yLabels, fontSize: 24, color: '#000', fontFamily: FONT, margin: 24, rotate: 90,
      formatter: v => String(v) },
    name: 'Y (response)', nameLocation: 'middle', nameGap: 76,
    nameTextStyle: { fontSize: 27, color: '#000', fontFamily: FONT } });

  p.geos.forEach(g => {
    series.push({ type: 'line', xAxisIndex: i, yAxisIndex: i, symbol: 'none', silent: true, z: 1,
      lineStyle: { color: C_GEO, width: 1 },
      data: p.days.map((d, k) => [d, g[k] * 1000]) });
  });
  series.push({ type: 'line', xAxisIndex: i, yAxisIndex: i, symbol: 'none', silent: true, z: 3,
    lineStyle: { color: C_AVG, width: 3.8 }, data: p.days.map((d, k) => [d, p.avg[k]]) });
  series.push({ type: 'line', xAxisIndex: i, yAxisIndex: i, symbol: 'none', silent: true, z: 4,
    lineStyle: { color: C_TRT, width: 3.8 }, data: p.days.map((d, k) => [d, p.trt[k]]) });
  series.push({ type: 'line', xAxisIndex: i, yAxisIndex: i, symbol: 'none', silent: true, z: 5,
    lineStyle: { color: '#000', width: 2, type: [12, 7] },
    data: [[p.treat, p.yMin], [p.treat, p.yMax]] });

  // panel title
  elements.push(txt(p.left + W / 2, p.top - 36, p.title, 'bold 34px ' + FONT, '#000', 'center'));
  // legend box (white, drawn over the lines)
  elements.push({ type: 'rect', z: 90, silent: true, shape: { x: p.left + 1, y: p.top - 1, width: 244, height: 107 },
    style: { fill: '#fff', stroke: null } });
  elements.push({ type: 'line', z: 91, silent: true, shape: { x1: p.left, y1: p.top, x2: p.left + 245, y2: p.top },
    style: { stroke: '#a0a0a0', lineWidth: 1.5 } });
  const rows = [
    { label: 'Control avg', color: C_AVG, w: 4, dash: null },
    { label: p.trtName, color: C_TRT, w: 4, dash: null },
    { label: 'Treatment start', color: '#000', w: 2, dash: [12, 6] }
  ];
  rows.forEach((r, k) => {
    const y = p.top + 28 + k * 26;
    elements.push({ type: 'line', z: 95, silent: true, shape: { x1: p.left + 18, y1: y, x2: p.left + 60, y2: y },
      style: { stroke: r.color, lineWidth: r.w, lineDash: r.dash } });
    elements.push(txt(p.left + 78, y, r.label, '22px ' + FONT, '#000', 'left'));
  });
  // annotation
  p.note.forEach((n, k) => {
    elements.push(txt(p.left + 806, p.top + 28 + k * 26, n, 'italic 20.5px ' + FONT, '#444', 'left'));
  });
});

elements.push(txt(1200, 27, 'Simulated panel data by scenario (iteration 1, lift = 0%)', 'bold 43px ' + FONT, '#000', 'center'));
elements.push(txt(1200, 1581,
  'Shared DGP parameters \u2014 noise = 0.2 (day-to-day randomness; higher = choppier series)     AR(1) = 0.3 (day-to-day persistence; higher = smoother runs)',
  '25px ' + FONT, '#333', 'center'));
elements.push(txt(1200, 1615,
  'baseline spread = 0.6 (inequality in market size across geos)     trend = 0.1%/day     seasonality \u00b110%',
  '25px ' + FONT, '#333', 'center'));
if (bad.length) elements.push(txt(1200, 800, 'LENGTH MISMATCH: ' + bad.join('; '), 'bold 30px ' + FONT, '#f00', 'center'));

const chart = echarts.init(document.getElementById('chart'), null, { renderer: 'canvas' });
chart.setOption({
  animation: false,
  backgroundColor: '#fff',
  grid, xAxis, yAxis, series,
  graphic: { elements }
});
</script>
</body>
</html>
